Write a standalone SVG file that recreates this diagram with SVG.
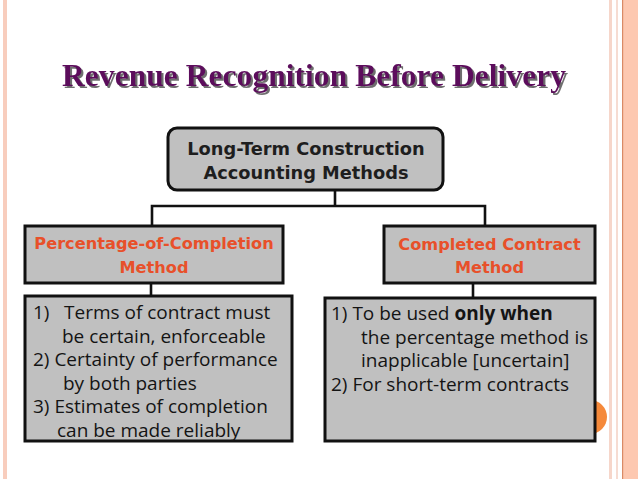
<svg xmlns="http://www.w3.org/2000/svg" width="638" height="479" viewBox="0 0 638 479">
  <defs>
    <filter id="shadow" x="-5%" y="-20%" width="110%" height="150%">
      <feDropShadow dx="2" dy="2" stdDeviation="0.6" flood-color="#6e6e6e" flood-opacity="1"/>
    </filter>
  </defs>
  <style>
    .box { fill: #c0c0c0; stroke: #111111; stroke-width: 3; }
    .conn { fill: none; stroke: #111111; stroke-width: 2.6; }
    .head { font-family: "DejaVu Sans", Verdana, sans-serif; font-weight: bold; font-size: 17.8px; text-anchor: middle; fill: #1e1e1e; }
    .method { font-family: "DejaVu Sans", Verdana, sans-serif; font-weight: bold; font-size: 16.2px; text-anchor: middle; fill: #e8502a; }
    .body { font-family: "Open Sans", "DejaVu Sans", sans-serif; font-size: 19px; fill: #141414; }
    .b { font-weight: bold; }
  </style>

  <!-- background and slide decorations -->
  <rect x="0" y="0" width="638" height="479" fill="#ffffff"/>
  <rect x="3" y="0" width="4" height="479" fill="#f8cdbd"/>
  <rect x="609" y="0" width="3" height="479" fill="#f6d6ca"/>
  <rect x="616" y="0" width="2" height="479" fill="#f6dcd2"/>
  <rect x="622" y="0" width="16" height="479" fill="#fdc8b0"/>
  <rect x="622" y="0" width="1.2" height="479" fill="#d98a66"/>
  <circle cx="590" cy="417" r="17" fill="#f5893a"/>

  <!-- title -->
  <text x="314" y="86" font-family="Liberation Serif, 'Times New Roman', serif" font-weight="bold" font-size="31.5" fill="#5c0c5c" text-anchor="middle" textLength="504" lengthAdjust="spacingAndGlyphs" filter="url(#shadow)">Revenue Recognition Before Delivery</text>

  <!-- connectors -->
  <g id="connectors">
    <path class="conn" d="M335 191 V206 M152 206 H485 M152 204.7 V226 M485 204.7 V226"/>
    <path class="conn" d="M151 283 V296"/>
    <path class="conn" d="M473 283 V298"/>
  </g>

  <g id="root">
    <rect class="box" x="168" y="128" width="275" height="62" rx="9" ry="9"/>
    <text class="head" x="306" y="155">Long-Term Construction</text>
    <text class="head" x="306" y="179">Accounting Methods</text>
  </g>

  <g id="poc">
    <rect class="box" x="25" y="226" width="258" height="57"/>
    <text class="method" x="154" y="249">Percentage-of-Completion</text>
    <text class="method" x="154" y="273">Method</text>
  </g>

  <g id="cc">
    <rect class="box" x="384" y="226" width="211" height="57"/>
    <text class="method" x="489.5" y="250">Completed Contract</text>
    <text class="method" x="489.5" y="273">Method</text>
  </g>

  <g id="poc-details">
    <rect class="box" x="25" y="296" width="267" height="145"/>
    <text class="body" y="319"><tspan x="33">1)</tspan><tspan x="64">Terms of contract must</tspan></text>
    <text class="body" x="62" y="342.5">be certain, enforceable</text>
    <text class="body" x="33" y="366">2) Certainty of performance</text>
    <text class="body" x="63" y="389.5">by both parties</text>
    <text class="body" x="33" y="413">3) Estimates of completion</text>
    <text class="body" x="57" y="436.5">can be made reliably</text>
  </g>

  <g id="cc-details">
    <rect class="box" x="325" y="298" width="270" height="143"/>
    <text class="body" x="331" y="320">1) To be used <tspan class="b">only when</tspan></text>
    <text class="body" x="361" y="343.5">the percentage method is</text>
    <text class="body" x="361" y="367">inapplicable [uncertain]</text>
    <text class="body" x="331" y="391">2) For short-term contracts</text>
  </g>
</svg>
